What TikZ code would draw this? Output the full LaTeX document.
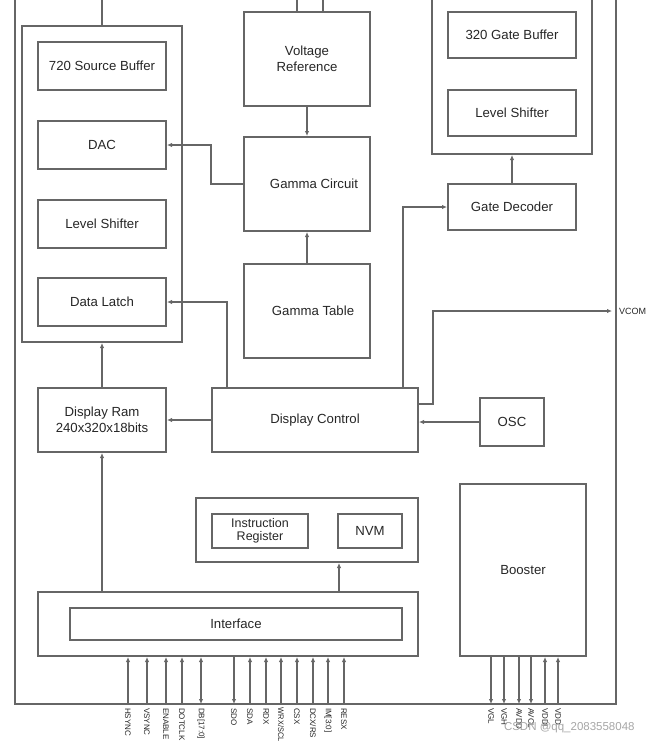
\documentclass[tikz,border=0pt]{standalone}
\usepackage{fontspec}
\setmainfont{Liberation Sans}
\usetikzlibrary{arrows.meta,calc}
\begin{document}
\begin{tikzpicture}[x=1pt,y=-1pt,
  color=black!60, line width=2pt,
  box/.style={draw, rectangle, line width=2pt, inner sep=0pt, align=center,
    font=\fontsize{13.2}{15.5}\selectfont, text=black!85},
  sz/.style 2 args={minimum width=#1pt, minimum height=#2pt},
  arr/.style={-{Latex[length=5pt,width=4.5pt]}},
  rarr/.style={{Latex[length=5pt,width=4.5pt]}-},
  barr/.style={{Latex[length=5pt,width=4.5pt]}-{Latex[length=5pt,width=4.5pt]}},
  pinlbl/.style={rotate=-90, anchor=west, inner sep=0pt,
    font=\fontsize{8}{9}\selectfont, text=black!85},
]
\useasboundingbox (0,0) rectangle (654,742);

% outer frame (top cut off)
\coordinate (ftl) at (15,-5);
\coordinate (fbl) at (15,704);
\coordinate (fbr) at (616,704);
\coordinate (ftr) at (616,-5);
\draw (ftl) -- (fbl) -- (fbr) -- (ftr);

% source side
\node[box, sz={160}{316}] (srcouter) at (102,184) {};
\node[box, sz={128}{48}] (srcbuf) at (102,66) {720 Source Buffer};
\node[box, sz={128}{48}] (dac) at (102,145) {DAC};
\node[box, sz={128}{48}] (lsS) at (102,224) {Level Shifter};
\node[box, sz={128}{48}] (latch) at (102,302) {Data Latch};

% gamma
\node[box, sz={126}{94}] (vref) at (307,59) {Voltage\\Reference};
\node[box, sz={126}{94}] (gamma) at (307,184) {\hspace*{14pt}Gamma Circuit};
\node[box, sz={126}{94}] (gtable) at (307,311) {\hspace*{12pt}Gamma Table};

% gate side
\node[box, sz={160}{164}] (gateouter) at (512,72) {};
\node[box, sz={128}{46}] (gatebuf) at (512,35) {320 Gate Buffer};
\node[box, sz={128}{46}] (lsG) at (512,113) {Level Shifter};
\node[box, sz={128}{46}] (gdec) at (512,207) {Gate Decoder};

% middle
\node[box, sz={128}{64}] (ram) at (102,420) {Display Ram\\240x320x18bits};
\node[box, sz={206}{64}] (dctl) at (315,420) {Display Control};
\node[box, sz={64}{48}] (osc) at (512,422) {OSC};

% instruction
\node[box, sz={222}{64}] (instr) at (307,530) {};
\node[box, sz={96}{34}, font=\fontsize{12.5}{13}\selectfont] (ireg) at (260,531) {Instruction\\Register};
\node[box, sz={64}{34}] (nvm) at (370,531) {NVM};

% interface
\node[box, sz={380}{64}] (ifouter) at (228,624) {};
\node[box, sz={332}{32}] (ifinner) at (236,624) {Interface};

% booster
\node[box, sz={126}{172}] (booster) at (523,570) {Booster};

% top feeds
\coordinate (t1) at (102,-5);
\coordinate (t2) at (297,-5);
\coordinate (t3) at (323,-5);
\draw (t1) -- (t1 |- srcouter.north);
\draw (t2) -- (t2 |- vref.north);
\draw (t3) -- (t3 |- vref.north);

% connectors
\draw[arr] (vref.south) -- (gamma.north);
\draw[arr] (gtable.north) -- (gamma.south);
\draw[arr] (gamma.west) -- ++(-32,0) |- (dac.east);
\draw[arr] ([xshift=16pt]dctl.north west) |- (latch.east);
\draw[arr] (ram.north) -- (ram.north |- srcouter.south);
\draw[arr] (dctl.west) -- (ram.east);
\draw[arr] (osc.west) -- (osc.west -| dctl.east);
\draw[arr] ([xshift=-16pt]dctl.north east) |- (gdec.west);
\draw[arr] (gdec.north) -- (gdec.north |- gateouter.south);
\coordinate (vcom) at (612,311);
\draw[arr] ([yshift=16pt]dctl.east) -| (433,311) -- (vcom);
\node[anchor=west, inner sep=0pt, font=\fontsize{9}{10}\selectfont, text=black!85] (vcomlbl) at (618,311) {VCOM};
\draw[arr] (ifouter.north -| ram.south) -- (ram.south);
\coordinate (ia) at ([xshift=32pt]instr.south);
\draw[arr] (ifouter.north -| ia) -- (ia);

% interface pins
\coordinate (pHS) at (128,704);
\coordinate (pVS) at (147,704);
\coordinate (pEN) at (166,704);
\coordinate (pDC) at (182,704);
\coordinate (pDB) at (201,704);
\coordinate (pSDO) at (234,704);
\coordinate (pSDA) at (250,704);
\coordinate (pRD) at (266,704);
\coordinate (pWR) at (281,704);
\coordinate (pCS) at (297,704);
\coordinate (pDCX) at (313,704);
\coordinate (pIM) at (328,704);
\coordinate (pRES) at (344,704);
\draw[arr] (pHS) -- (pHS |- ifouter.south);
\draw[arr] (pVS) -- (pVS |- ifouter.south);
\draw[arr] (pEN) -- (pEN |- ifouter.south);
\draw[arr] (pDC) -- (pDC |- ifouter.south);
\draw[barr] (pDB) -- (pDB |- ifouter.south);
\draw[rarr] (pSDO) -- (pSDO |- ifouter.south);
\draw[arr] (pSDA) -- (pSDA |- ifouter.south);
\draw[arr] (pRD) -- (pRD |- ifouter.south);
\draw[arr] (pWR) -- (pWR |- ifouter.south);
\draw[arr] (pCS) -- (pCS |- ifouter.south);
\draw[arr] (pDCX) -- (pDCX |- ifouter.south);
\draw[arr] (pIM) -- (pIM |- ifouter.south);
\draw[arr] (pRES) -- (pRES |- ifouter.south);
\node[pinlbl] (lHS) at ([yshift=-3pt]pHS) {HSYNC};
\node[pinlbl] (lVS) at ([yshift=-3pt]pVS) {VSYNC};
\node[pinlbl] (lEN) at ([yshift=-3pt]pEN) {ENABLE};
\node[pinlbl] (lDC) at ([yshift=-3pt]pDC) {DOTCLK};
\node[pinlbl] (lDB) at ([yshift=-3pt]pDB) {DB[17:0]};
\node[pinlbl] (lSDO) at ([yshift=-3pt]pSDO) {SDO};
\node[pinlbl] (lSDA) at ([yshift=-3pt]pSDA) {SDA};
\node[pinlbl] (lRD) at ([yshift=-3pt]pRD) {RDX};
\node[pinlbl, xscale=0.92] (lWR) at ([yshift=-3pt]pWR) {WRX/SCL};
\node[pinlbl] (lCS) at ([yshift=-3pt]pCS) {CSX};
\node[pinlbl] (lDCX) at ([yshift=-3pt]pDCX) {DCX/RS};
\node[pinlbl] (lIM) at ([yshift=-3pt]pIM) {IM[3:0]};
\node[pinlbl] (lRES) at ([yshift=-3pt]pRES) {RESX};

% booster pins
\coordinate (bVGL) at (491,704);
\coordinate (bVGH) at (504,704);
\coordinate (bAVDD) at (519,704);
\coordinate (bAVCL) at (531,704);
\coordinate (bVDDI) at (545,704);
\coordinate (bVDD) at (558,704);
\draw[arr] (bVGL |- booster.south) -- (bVGL);
\draw[arr] (bVGH |- booster.south) -- (bVGH);
\draw[arr] (bAVDD |- booster.south) -- (bAVDD);
\draw[arr] (bAVCL |- booster.south) -- (bAVCL);
\draw[arr] (bVDDI) -- (bVDDI |- booster.south);
\draw[arr] (bVDD) -- (bVDD |- booster.south);
\node[pinlbl] (lVGL) at ([yshift=-3pt]bVGL) {VGL};
\node[pinlbl] (lVGH) at ([yshift=-3pt]bVGH) {VGH};
\node[pinlbl] (lAVDD) at ([yshift=-3pt]bAVDD) {AVDD};
\node[pinlbl] (lAVCL) at ([yshift=-3pt]bAVCL) {AVCL};
\node[pinlbl] (lVDDI) at ([yshift=-3pt]bVDDI) {VDDI};
\node[pinlbl] (lVDD) at ([yshift=-3pt]bVDD) {VDD};

% watermark
\node[anchor=west, inner sep=0pt, font=\fontsize{11.5}{13}\selectfont, text=black!35] (wm) at (503,728) {CSDN @qq\_2083558048};
\end{tikzpicture}
\end{document}
